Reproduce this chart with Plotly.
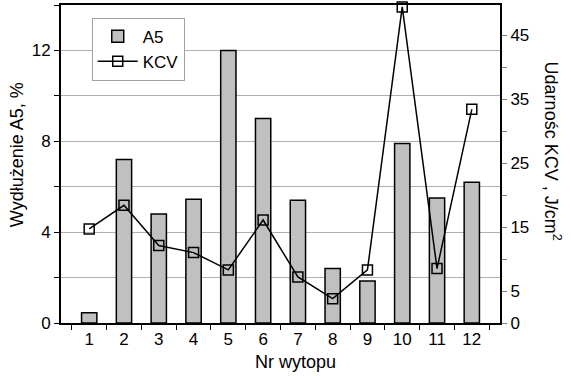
import plotly.graph_objects as go

categories = [str(i) for i in range(1, 13)]
a5 = [0.45, 7.2, 4.8, 5.45, 12.0, 9.0, 5.4, 2.4, 1.85, 7.9, 5.5, 6.2]
kcv = [14.7, 18.4, 12.1, 11.0, 8.3, 16.1, 7.2, 3.8, 8.3, 49.4, 8.5, 33.4]
left_ticks = [0, 4, 8, 12]
right_ticks = [0, 5, 15, 25, 35, 45]

FONT = "Liberation Sans, Arial, sans-serif"

fig = go.Figure()
fig.add_trace(go.Bar(
    x=categories, y=a5, name="A5",
    marker=dict(color="#c0c0c0", line=dict(color="black", width=1.5)),
    width=0.44,
))
fig.add_trace(go.Scatter(
    x=categories, y=kcv, name="KCV", yaxis="y2",
    mode="lines+markers",
    line=dict(color="black", width=1.5),
    marker=dict(symbol="square-open", size=10, color="black", line=dict(width=1.5)),
    cliponaxis=False,
))

fig.update_layout(
    width=571, height=376,
    margin=dict(l=61, r=71, t=3, b=53),
    plot_bgcolor="white", paper_bgcolor="white",
    font=dict(family=FONT, size=17, color="black"),
    showlegend=True,
    legend=dict(
        x=0.07, y=0.96, xanchor="left", yanchor="top",
        bgcolor="white", bordercolor="#a0a0a0", borderwidth=1,
        font=dict(size=17), itemwidth=40, tracegroupgap=0,
    ),
    xaxis=dict(
        type="category", showline=True, linecolor="black", linewidth=2, mirror=True,
        ticks="outside", tickson="boundaries", ticklen=5, tickcolor="black",
        showgrid=False,
    ),
    yaxis=dict(
        range=[0, 14], tickvals=left_ticks, ticktext=[str(v) for v in left_ticks],
        showline=True, linecolor="black", linewidth=2,
        ticks="outside", ticklen=5, tickcolor="black",
        showgrid=True, gridcolor="#b0b0b0", gridwidth=1,
        minor=dict(dtick=2, tick0=0, showgrid=True, gridcolor="#b0b0b0",
                   ticks="outside", ticklen=5, tickcolor="black"),
        zeroline=False,
    ),
    yaxis2=dict(
        range=[0, 49.7], overlaying="y", side="right",
        tickvals=right_ticks, ticktext=[str(v) for v in right_ticks],
        showline=True, linecolor="black", linewidth=2,
        ticks="outside", ticklen=5, tickcolor="#808080",
        minor=dict(dtick=5, tick0=0, ticks="outside", ticklen=5, tickcolor="#808080"),
        showgrid=False, zeroline=False,
    ),
    annotations=[
        dict(text="Nr wytopu", x=0.535, y=-0.085, xref="paper", yref="paper",
             xanchor="center", yanchor="top", showarrow=False, font=dict(size=18)),
        dict(text="Wydłużenie A5, %", x=-0.10, y=0.528, xref="paper", yref="paper",
             textangle=-90, xanchor="center", yanchor="middle", showarrow=False, font=dict(size=18)),
        dict(text="Udarnośc KCV , J/cm<sup>2</sup>", x=1.12, y=0.54, xref="paper", yref="paper",
             textangle=90, xanchor="center", yanchor="middle", showarrow=False, font=dict(size=18)),
    ],
)

fig.write_html("out.html", config={"displayModeBar": False},
               post_script="document.body.style.margin='0';document.body.style.padding='0';")
